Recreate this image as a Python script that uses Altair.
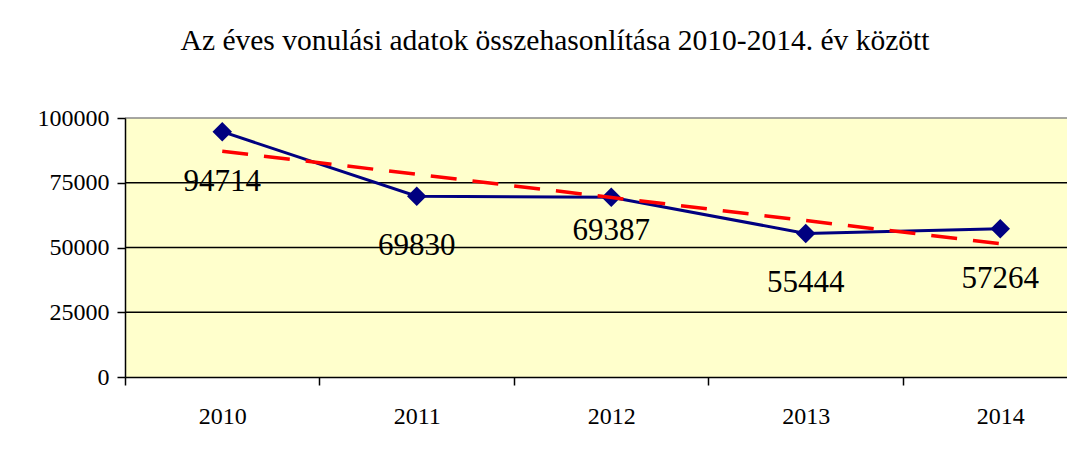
import altair as alt
import pandas as pd

years = [2010, 2011, 2012, 2013, 2014]
values = [94714, 69830, 69387, 55444, 57264]
y_ticks = [0, 25000, 50000, 75000, 100000]
title_text = "Az éves vonulási adatok összehasonlítása 2010-2014. év között"

df = pd.DataFrame({"year": years, "value": values})
grid_df = pd.DataFrame({"value": y_ticks[1:]})

FONT = "Liberation Serif"
band = 194.5
W = 942
H = 259

xscale = alt.Scale(domain=[2009.5, 2009.5 + W / band], nice=False, zero=False)
yscale = alt.Scale(domain=[0, 100000], nice=False)

xaxis = alt.Axis(
    values=years, format="d", title=None, grid=False,
    tickOffset=-band / 2, labelOffset=band / 2,
    tickSize=8, tickColor="black", tickWidth=1.5,
    domainColor="black", domainWidth=1.5,
    labelFont=FONT, labelFontSize=24, labelColor="black",
    labelPadding=19, labelBaseline="top", zindex=1,
)
yaxis = alt.Axis(
    values=y_ticks, format="d", title=None, grid=False,
    tickSize=8, tickColor="black", tickWidth=1.5,
    domainColor="black", domainWidth=1.5,
    labelFont=FONT, labelFontSize=24, labelColor="black",
    labelPadding=8, zindex=1,
)

base = alt.Chart(df)

bg = base.mark_rect(color="#FFFFCC").encode(
    x=alt.value(0), x2=alt.value(W), y=alt.value(0), y2=alt.value(H)
)

gridlines = alt.Chart(grid_df).mark_rule(strokeWidth=1.3).encode(
    x=alt.value(0), x2=alt.value(W),
    y=alt.Y("value:Q", scale=yscale),
    color=alt.condition("datum.value === 100000", alt.value("#888888"), alt.value("black")),
)

axes = base.mark_point(opacity=0).encode(
    x=alt.X("year:Q", scale=xscale, axis=xaxis),
    y=alt.Y("value:Q", scale=yscale, axis=yaxis),
)

line = base.mark_line(color="#000080", strokeWidth=3).encode(
    x=alt.X("year:Q", scale=xscale),
    y=alt.Y("value:Q", scale=yscale),
)

trend = base.transform_regression("year", "value").mark_line(
    color="#FF0000", strokeWidth=3.5, strokeDash=[26, 16]
).encode(
    x=alt.X("year:Q", scale=xscale),
    y=alt.Y("value:Q", scale=yscale),
)

points = base.mark_point(shape="diamond", filled=True, color="#000080", size=380, opacity=1).encode(
    x=alt.X("year:Q", scale=xscale),
    y=alt.Y("value:Q", scale=yscale),
)

labels_main = base.transform_filter("datum.year !== 2012").mark_text(
    font=FONT, fontSize=31, color="black", dy=50, baseline="middle"
).encode(
    x=alt.X("year:Q", scale=xscale),
    y=alt.Y("value:Q", scale=yscale),
    text=alt.Text("value:Q", format="d"),
)

labels_2012 = base.transform_filter("datum.year === 2012").mark_text(
    font=FONT, fontSize=31, color="black", dy=34, baseline="middle"
).encode(
    x=alt.X("year:Q", scale=xscale),
    y=alt.Y("value:Q", scale=yscale),
    text=alt.Text("value:Q", format="d"),
)

chart = alt.layer(bg, gridlines, axes, line, points, trend, labels_main, labels_2012).properties(
    width=W, height=H,
    title=alt.TitleParams(
        title_text, font=FONT, fontSize=29.5, fontWeight="normal", color="black",
        anchor="middle", frame="group", dx=-41, offset=50,
    ),
    autosize=alt.AutoSizeParams(type="none"),
    padding={"left": 117, "top": 110, "right": 0, "bottom": 72},
).configure_view(
    strokeWidth=0
).configure(background="white")

chart.save("out.html", embed_options={"renderer": "svg", "actions": False})
